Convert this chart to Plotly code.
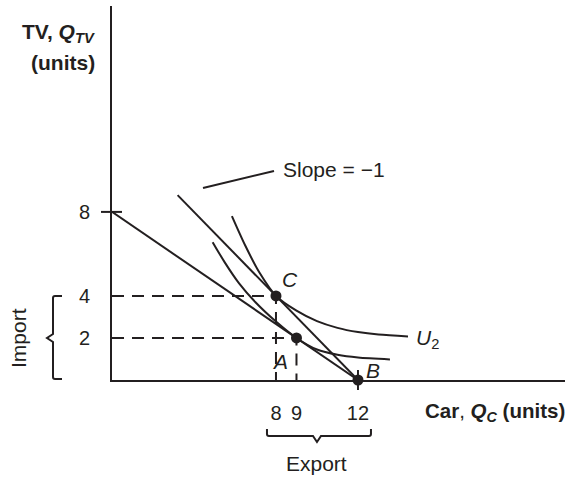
import plotly.graph_objects as go

# ---------------- data (economic units) ----------------
x_ticks = [8, 9, 12]
x_tick_text = ["8", "9", "12"]
y_ticks = [2, 4, 8]
y_tick_text = ["2", "4", "8"]

# budget / production line from (0, 8) to (12, 0)
budget_x = [0, 12]
budget_y = [8, 0]
# price line with slope -1 through C and B
price_x = [3.2, 12]
price_y = [8.8, 0]

# indifference curves
u1_x = [4.91, 5.5, 6.2, 7.0, 8.0, 9.0, 10.0, 11.0, 12.0, 13.56]
u1_y = [6.56, 5.6, 4.6, 3.7, 2.78, 2.0, 1.45, 1.2, 1.07, 0.98]
u2_x = [5.85, 6.5, 7.2, 8.0, 9.0, 10.0, 11.0, 12.0, 13.0, 14.44]
u2_y = [7.8, 6.4, 5.1, 4.0, 3.3, 2.8, 2.48, 2.28, 2.16, 2.07]

# labelled points
pt_names = ["C", "A", "B"]
pt_x = [8, 9, 12]
pt_y = [4, 2, 0]

# ---------------- layout geometry ----------------
W, H = 570, 478
ML, MR, MT, MB = 112, 5, 6, 98
PW, PH = W - ML - MR, H - MT - MB
XMAX, YMAX = 22.1, 17.8

FONT = "Liberation Sans, Arial, Helvetica, sans-serif"
INK = "#231f20"


def dpx(x):  # data x -> pixel x
    return ML + x * PW / XMAX


def dpy(y):  # data y -> pixel y
    return MT + PH - y * PH / YMAX


def pp(px, py):  # pixel -> paper
    return (px - ML) / PW, (MT + PH - py) / PH


def path(points, cmds):
    s = ""
    for c, pts in zip(cmds, points):
        s += c + " " + " ".join("%.5f,%.5f" % pp(*p) for p in pts) + " "
    return s.strip()


fig = go.Figure()

line = dict(color=INK, width=2)
fig.add_trace(go.Scatter(x=budget_x, y=budget_y, mode="lines", line=line))
fig.add_trace(go.Scatter(x=price_x, y=price_y, mode="lines", line=line))
fig.add_trace(go.Scatter(x=u1_x, y=u1_y, mode="lines",
                         line=dict(color=INK, width=2, shape="spline", smoothing=0.8)))
fig.add_trace(go.Scatter(x=u2_x, y=u2_y, mode="lines",
                         line=dict(color=INK, width=2, shape="spline", smoothing=0.8)))

# dashed guide lines to C and A
dash = dict(color=INK, width=2, dash="12px,8px")
for i in (0, 1):
    fig.add_trace(go.Scatter(x=[0, pt_x[i], pt_x[i]], y=[pt_y[i], pt_y[i], 0],
                             mode="lines", line=dash))

fig.add_trace(go.Scatter(x=pt_x, y=pt_y, mode="markers", cliponaxis=False,
                         marker=dict(color=INK, size=11)))

shapes = []
# tick crossing at y = 8 and x = 12
x8a, _ = pp(ML - 11, 0)
x8b, _ = pp(ML + 10, 0)
shapes.append(dict(type="line", xref="paper", yref="y", x0=x8a, x1=x8b,
                   y0=y_ticks[2], y1=y_ticks[2], line=dict(color=INK, width=2)))
_, yb0 = pp(0, dpy(0) - 10)
_, yb1 = pp(0, dpy(0) + 10)
shapes.append(dict(type="line", xref="x", yref="paper", x0=x_ticks[2], x1=x_ticks[2],
                   y0=yb0, y1=yb1, line=dict(color=INK, width=2)))

# leader line of the "Slope = -1" label
l0x, l0y = pp(203, 188)
l1x, l1y = pp(274, 171)
shapes.append(dict(type="line", xref="paper", yref="paper", x0=l0x, y0=l0y, x1=l1x, y1=l1y,
                   line=dict(color=INK, width=2)))

# Export brace (under 8 ... 12)
ex0, ex1, exm = dpx(x_ticks[0]) - 9, dpx(x_ticks[2]) + 13, dpx((x_ticks[0] + x_ticks[2]) / 2)
yt, yh, ytip = 429, 436, 442
exp_path = path(
    [[(ex0, yt)], [(ex0, yh - 2)], [(ex0, yh), (ex0 + 2, yh)], [(exm - 4, yh)], [(exm, ytip)],
     [(exm + 4, yh)], [(ex1 - 2, yh)], [(ex1, yh), (ex1, yh - 2)], [(ex1, yt)]],
    ["M", "L", "Q", "L", "L", "L", "L", "Q", "L"])
shapes.append(dict(type="path", xref="paper", yref="paper", path=exp_path,
                   line=dict(color=INK, width=2)))

# Import brace (beside 0 ... 4)
iy0, iy1, iym = dpy(y_ticks[1]), dpy(0) - 1, dpy(y_ticks[0])
xv, xh, xtip = 53, 62, 47
imp_path = path(
    [[(xh, iy0)], [(xv + 2, iy0)], [(xv, iy0), (xv, iy0 + 2)], [(xv, iym - 4)], [(xtip, iym)],
     [(xv, iym + 4)], [(xv, iy1 - 2)], [(xv, iy1), (xv + 2, iy1)], [(xh, iy1)]],
    ["M", "L", "Q", "L", "L", "L", "L", "Q", "L"])
shapes.append(dict(type="path", xref="paper", yref="paper", path=imp_path,
                   line=dict(color=INK, width=2)))

ann = []
tf = dict(family=FONT, size=21, color=INK)
tkf = dict(family=FONT, size=20, color=INK)
# point labels
offsets = {"C": (14, 16), "A": (-16, -24), "B": (15, 10)}
for n, x, y in zip(pt_names, pt_x, pt_y):
    ann.append(dict(x=x, y=y, xref="x", yref="y", text="<i>%s</i>" % n, showarrow=False,
                    xshift=offsets[n][0], yshift=offsets[n][1], font=tf))
# U2 label
ann.append(dict(x=u2_x[-1], y=u2_y[-1], xref="x", yref="y", text="<i>U</i><sub>2</sub>",
                showarrow=False, xanchor="left", xshift=6, yshift=-2, font=tf))
# slope label
sx, sy = pp(281, 169)
ann.append(dict(x=sx, y=sy, xref="paper", yref="paper", xanchor="left", yanchor="middle",
                text="Slope = \u22121", showarrow=False, font=tf))
# axis titles
tfb = dict(family=FONT, size=21, color=INK)
tx, ty = pp(97, 33)
ann.append(dict(x=tx, y=ty, xref="paper", yref="paper", xanchor="right", yanchor="middle",
                showarrow=False, text="<b>TV, <i>Q</i><sub><i>TV</i></sub></b>", font=tfb))
tx, ty = pp(97, 62)
ann.append(dict(x=tx, y=ty, xref="paper", yref="paper", xanchor="right", yanchor="middle",
                showarrow=False, text="<b>(units)</b>", font=tfb))
cx, cy = pp(567, 412)
ann.append(dict(x=cx, y=cy, xref="paper", yref="paper", xanchor="right", yanchor="middle",
                showarrow=False,
                text="<b>Car</b>, <b><i>Q</i><sub><i>C</i></sub> (units)</b>",
                font=dict(family=FONT, size=20.5, color=INK)))
# Export / Import
_, ey = pp(0, 463)
ann.append(dict(x=(x_ticks[0] + x_ticks[2]) / 2, y=ey, xref="x", yref="paper",
                xanchor="center", yanchor="middle",
                text="Export", showarrow=False, font=tf))
ix, _ = pp(19, 0)
ann.append(dict(x=ix, y=y_ticks[0], xref="paper", yref="y", text="Import", textangle=-90,
                xanchor="center", yanchor="middle", showarrow=False, font=tf))

fig.update_layout(
    width=W, height=H, margin=dict(l=ML, r=MR, t=MT, b=MB),
    paper_bgcolor="white", plot_bgcolor="white", showlegend=False,
    shapes=shapes, annotations=ann,
    xaxis=dict(range=[0, XMAX], showgrid=False, zeroline=False, showline=True,
               linecolor=INK, linewidth=2, tickvals=x_ticks, ticktext=x_tick_text,
               ticks="", ticklabelstandoff=14, tickfont=tkf, fixedrange=True),
    yaxis=dict(range=[0, YMAX], showgrid=False, zeroline=False, showline=True,
               linecolor=INK, linewidth=2, tickvals=y_ticks, ticktext=y_tick_text,
               ticks="", ticklabelstandoff=16, tickfont=tkf, fixedrange=True),
)

fig.write_html("out.html", config={"displayModeBar": False},
               post_script="document.body.style.margin='0';document.body.style.overflow='hidden';")
